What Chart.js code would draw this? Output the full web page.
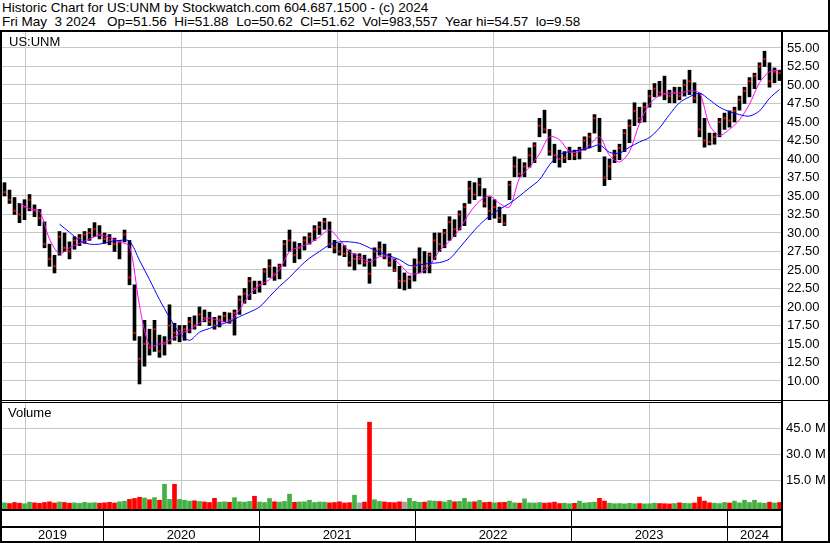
<!DOCTYPE html>
<html>
<head>
<meta charset="utf-8">
<title>US:UNM Historic Chart</title>
<script src="https://cdn.jsdelivr.net/npm/chart.js@4.4.1/dist/chart.umd.min.js"></script>
<style>
    body { margin: 0; background: #fff; }
    #wrap { position: relative; width: 830px; height: 543px; overflow: hidden; font-family: 'Liberation Sans', Arial, sans-serif; }
    .txt { position: absolute; font-size: 13px; line-height: 14px; color: #000; white-space: pre; }
    .title { font-size: 13.5px; }
    .rule { position: absolute; background: #000; z-index: 5; }
    canvas { position: absolute; left: 0; }
</style>
</head>
<body>
<div id="wrap">
    <div class="txt title" style="left:2px;top:1px;">Historic Chart for US:UNM by Stockwatch.com 604.687.1500 - (c) 2024</div>
    <div class="txt title" style="left:2px;top:15px;">Fri May  3 2024   Op=51.56  Hi=51.88  Lo=50.62  Cl=51.62  Vol=983,557  Year hi=54.57  lo=9.58</div>

    <canvas id="priceChart" width="830" height="368" style="top:32px;"></canvas>
    <canvas id="volumeChart" width="830" height="140" style="top:403px;"></canvas>

    <div class="txt" style="left:9px;top:35px;z-index:6;">US:UNM</div>
    <div class="txt" style="left:8px;top:406px;z-index:6;">Volume</div>

    <!-- frame lines -->
    <div class="rule" style="left:0;top:30px;width:830px;height:2px;"></div>
    <div class="rule" style="left:0;top:30px;width:2px;height:513px;"></div>
    <div class="rule" style="left:828px;top:0;width:2px;height:543px;"></div>
    <div class="rule" style="left:781px;top:30px;width:2px;height:513px;"></div>
    <div class="rule" style="left:0;top:400px;width:830px;height:1px;"></div>
    <div class="rule" style="left:0;top:402px;width:782px;height:1px;"></div>
    <div class="rule" style="left:0;top:541px;width:830px;height:2px;"></div>
</div>

<script>
// US:UNM bars, May 2019 - May 2024

const X_MIN = 2019.352;
const X_MAX = 2024.352;

const YEARS = ['2019', '2020', '2021', '2022', '2023', '2024'];
const YEAR_STARTS = [2020, 2021, 2022, 2023, 2024];

const PRICE_TICKS = [10, 12.5, 15, 17.5, 20, 22.5, 25, 27.5, 30, 32.5, 35, 37.5, 40, 42.5, 45, 47.5, 50, 52.5, 55];
const VOLUME_TICKS = [15, 30, 45];

const LOW = [
    35, 34, 32.5, 31.4, 31.8, 33, 32.2, 31, 28, 25.5, 24.6, 27, 27.5, 26.5, 27.8, 28.3, 28.6, 29, 29.5, 29.2,
    28.6, 28.4, 27.5, 26.5, 28.8, 23, 15.5, 9.6, 12, 13.5, 14, 13.2, 13.5, 15, 15.5, 15.3, 15.5, 16.5, 17, 17.5,
    18, 17.5, 17, 17.3, 18, 17.8, 16.2, 19, 20.5, 21, 21.8, 22, 23, 24, 23.6, 23.8, 25.5, 27.5, 26, 26.5,
    27.7, 28.5, 29, 29.8, 30.5, 28, 27.3, 27, 26.8, 25.5, 25, 25.8, 25.5, 23.2, 25.5, 27, 26.5, 25.5, 24.8, 22.5,
    22.3, 22.5, 23.5, 24.6, 24.6, 24.6, 26.4, 27.5, 28, 29, 29.5, 30.4, 31, 34, 34.5, 35, 33.5, 31.8, 32, 31.4,
    31, 34.5, 37.6, 37.6, 37.6, 38.9, 39.5, 43, 43.5, 40.5, 39.5, 38.9, 39.5, 39.9, 39.9, 40, 41.2, 41.5, 43.5, 41,
    36.4, 37.2, 39.5, 39.9, 41, 42.2, 44.5, 44.9, 45, 47, 48.4, 48.5, 48, 47.6, 47.6, 48, 48.5, 48.7, 47.6, 43,
    41.6, 41.9, 42, 43, 44, 44.3, 45, 46.6, 47.5, 48.4, 49.5, 50.7, 52.5, 49.7, 50.3, 50.6
];
const HIGH = [
    36.8, 35.8, 34.8, 34, 34.5, 35.2, 33.8, 33.2, 31.5, 28.5, 27, 30.2, 30, 28.8, 29.5, 29.8, 30.2, 30.6, 31.4, 31,
    30, 29.8, 29.3, 29, 30.4, 29, 23, 16, 18.2, 17, 18.2, 16.2, 16, 20.3, 17.8, 17.5, 17.5, 18.6, 18.8, 20,
    19.6, 19.3, 18.6, 18.8, 19.3, 19.2, 19.6, 21.5, 22.5, 24, 23.5, 23.5, 25.2, 26.4, 25.4, 25.8, 29, 30.4, 28.8, 28.6,
    29.5, 30, 31, 31.5, 32, 31.5, 29, 28.6, 28.3, 27.7, 27.2, 27.2, 27, 26.5, 28, 28.8, 28.5, 27.2, 26.5, 25.5,
    24.6, 24.2, 26.5, 28, 27.5, 27.3, 30, 30, 30.5, 32.2, 31.8, 33, 34, 37, 36.8, 37.4, 36, 34.9, 34.5, 33.5,
    32.5, 37, 40.3, 40, 39.5, 41.5, 42.2, 45.5, 46.6, 44, 42, 41.2, 41, 41.6, 41.2, 41.6, 43, 43.5, 46, 45.5,
    40.3, 40, 41.2, 42, 44, 45.3, 47.6, 47, 47.6, 49.3, 50.2, 50.5, 51.2, 49.3, 49.7, 49.7, 50.7, 52, 50.3, 48.9,
    45.5, 43.5, 43.5, 45.5, 46.2, 46.5, 47, 48.5, 49.7, 51, 51.6, 53, 54.57, 53, 52.3, 52
];
const CLOSE = [
    35.5, 34.5, 33, 32.5, 33.5, 34.5, 33, 32, 28.5, 26.5, 25.5, 29.5, 28, 27.5, 29, 29.3, 29.8, 30, 30.5, 29.8,
    29.2, 29, 28.5, 28.8, 29.8, 24, 16.5, 13, 15, 14.5, 17, 14, 15, 17.5, 16.5, 16.8, 17, 18, 17.5, 19,
    18.5, 18, 17.5, 18.3, 18.8, 18.2, 19.2, 21, 21.8, 23.5, 22.5, 23, 24.8, 25.5, 24.5, 25.5, 28.5, 29, 27, 28,
    29, 29.5, 30.5, 30.8, 31.5, 28.5, 28, 27.5, 27.2, 26, 26.5, 26.5, 26, 24.5, 27.5, 27.8, 27, 26, 25, 23.5,
    23.5, 23.8, 25.5, 26, 25.5, 27, 29, 28.5, 30, 31.5, 30.5, 32.5, 33.5, 36, 35.2, 36.5, 34, 33, 33.5, 32,
    31.3, 36.5, 39, 38, 39, 40.5, 41.8, 44.5, 44, 41, 40.5, 40, 40.2, 41, 40.5, 41.2, 42.5, 43, 45.5, 42,
    37.5, 39, 40.5, 41.5, 43.5, 44.5, 46.5, 45.5, 47, 48.5, 49.5, 49, 48.8, 48.5, 49, 48.5, 50, 50.5, 48.2, 44,
    42.5, 42.3, 43, 45, 45.5, 45.2, 46.5, 48, 49.2, 50.5, 51.2, 52.5, 53.5, 50.5, 51.8, 51.62
];

// volume per bar, millions
const VOLUME = [
    2.0, 1.6, 2.2, 1.8, 1.5, 2.4, 2.0, 1.7, 2.2, 2.6, 1.9, 2.5, 2.2, 1.8, 2.0, 1.7, 2.3, 1.9, 2.1, 1.8,
    2.0, 2.3, 1.9, 2.6, 3.0, 4.0, 4.5, 5.2, 4.8, 3.8, 5.0, 3.5, 12.7, 4.0, 12.7, 4.0, 3.5, 3.0, 3.2, 2.8,
    2.5, 2.2, 4.6, 2.4, 2.6, 2.3, 5.0, 2.6, 2.4, 2.8, 5.8, 2.5, 2.2, 4.5, 2.6, 2.4, 2.8, 7.0, 2.3, 2.5,
    2.6, 3.5, 2.2, 2.5, 2.4, 2.0, 2.2, 2.6, 1.9, 2.1, 6.4, 2.0, 2.4, 48.5, 3.8, 2.8, 2.5, 2.2, 2.1, 2.6,
    2.4, 4.6, 2.8, 2.3, 2.4, 3.2, 3.0, 2.8, 2.5, 3.5, 2.6, 2.8, 4.6, 2.5, 2.6, 3.4, 2.2, 2.4, 2.0, 2.2,
    2.3, 3.0, 2.0, 1.8, 4.3, 2.0, 1.9, 2.2, 1.8, 2.0, 2.4, 1.6, 1.8, 1.5, 1.7, 3.0, 1.9, 2.2, 2.4, 4.6,
    3.0, 1.8, 1.5, 1.6, 1.4, 1.7, 1.5, 1.6, 1.4, 1.5, 1.8, 1.6, 1.5, 1.4, 1.6, 2.0, 1.7, 1.6, 1.9, 5.3,
    3.0, 2.0, 1.8, 1.6, 2.2, 1.9, 3.0, 2.0, 3.5, 2.2, 3.5, 2.0, 1.8, 2.4, 1.9, 2.2
];

// moving averages, sampled at every second bar (bars 1, 3, 5 ... 155)
const MA_SHORT = [
    null, 34.0, 33.3, 32.9, 29.2, 27.2, 28.0, 28.6, 29.2, 29.7, 29.4, 28.8, 28.2, 20.2, 14.8, 15.0, 15.5, 16.4, 16.9, 17.8,
    18.5, 18.1, 18.0, 19.6, 21.7, 22.9, 23.7, 25.0, 27.5, 28.1, 28.6, 29.5, 30.4, 29.1, 27.5, 26.8, 26.1, 26.8, 26.8, 25.8,
    24.5, 24.6, 25.6, 27.6, 28.9, 30.5, 32.7, 34.3, 35.0, 34.0, 33.5, 37.4, 38.9, 40.7, 43.0, 42.6, 41.0, 41.0, 41.9, 43.0,
    40.5, 39.6, 41.0, 44.8, 47.4, 48.6, 48.9, 48.9, 49.2, 48.9, 44.6, 43.2, 44.0, 45.3, 47.4, 50.3, 51.8, 52.0
];
const MA_LONG = [
    null, null, null, null, null, 31.2, 30.1, 29.0, 28.5, 28.5, 28.8, 29.0, 28.9, 26.3, 23.7, 21.0, 18.6, 16.5, 15.5, 16.6,
    17.1, 17.6, 18.0, 18.7, 19.3, 20.0, 21.4, 22.8, 24.0, 25.4, 26.6, 27.5, 28.4, 28.8, 28.8, 28.6, 28.0, 27.4, 26.9, 26.4,
    25.6, 25.7, 25.9, 26.0, 26.5, 28.0, 29.6, 31.1, 32.3, 33.2, 34.0, 35.0, 36.1, 37.2, 39.2, 40.6, 41.0, 41.2, 41.5, 41.9,
    40.9, 40.8, 41.6, 42.3, 42.9, 44.2, 46.0, 47.6, 48.4, 48.9, 48.0, 47.0, 46.4, 46.0, 45.8, 46.5, 48.2, 49.4
];

const GRID = '#c8c8c8';
const FONT = { family: "'Liberation Sans', Arial, sans-serif", size: 13 };

const barStep = (X_MAX - X_MIN) / CLOSE.length;
const barX = i => X_MIN + (i + 0.5) * barStep;

Chart.defaults.font.family = FONT.family;

/**
 * Shared x axis: linear time in years, grid only at year starts
 */
function timeAxis() {
    return {
        type: 'linear',
        min: X_MIN,
        max: X_MAX,
        offset: false,
        afterBuildTicks: s => { s.ticks = YEAR_STARTS.map(v => ({ value: v })); },
        afterFit: s => { s.height = 0; s.paddingLeft = 0; s.paddingRight = 0; },
        ticks: { display: false },
        grid: { color: GRID, drawTicks: false },
        border: { display: false }
    };
}

/**
 * Right value axis with fixed width and no label overhang padding
 */
function valueAxis(min, max, ticks, format, padding) {
    return {
        position: 'right',
        min: min,
        max: max,
        afterBuildTicks: s => { s.ticks = ticks.map(v => ({ value: v })); },
        afterFit: s => { s.width = 48; s.paddingTop = 0; s.paddingBottom = 0; },
        ticks: {
            callback: format,
            font: FONT,
            color: '#000',
            padding: padding
        },
        grid: { color: GRID, drawTicks: false },
        border: { display: false }
    };
}

/**
 * Price panel: high-low bars, red close marks, two moving averages
 */
function renderPriceChart() {
    const ctx = document.getElementById('priceChart').getContext('2d');
    const maPoints = arr => arr.map((v, k) => ({ x: barX(2 * k + 1), y: v }));

    new Chart(ctx, {
        type: 'bar',
        data: {
            datasets: [
                {
                    type: 'line',
                    data: maPoints(MA_LONG),
                    borderColor: '#0000ff',
                    borderWidth: 1,
                    pointRadius: 0,
                    pointHoverRadius: 0,
                    tension: 0.3,
                    order: 1
                },
                {
                    type: 'line',
                    data: maPoints(MA_SHORT),
                    borderColor: '#ff00ff',
                    borderWidth: 1,
                    pointRadius: 0,
                    pointHoverRadius: 0,
                    tension: 0.3,
                    order: 2
                },
                {
                    type: 'scatter',
                    data: CLOSE.map((c, i) => ({ x: barX(i), y: c })),
                    pointStyle: 'rect',
                    pointRadius: 1.5,
                    pointHoverRadius: 0,
                    backgroundColor: '#ff0000',
                    borderWidth: 0,
                    order: 3
                },
                {
                    type: 'bar',
                    data: LOW.map((lo, i) => ({ x: barX(i), y: [lo, HIGH[i]] })),
                    backgroundColor: '#000',
                    barThickness: 3,
                    grouped: false,
                    order: 4
                }
            ]
        },
        options: {
            responsive: false,
            animation: false,
            layout: { autoPadding: false, padding: { left: 2, right: 0, top: 0, bottom: 0 } },
            plugins: { legend: { display: false }, tooltip: { enabled: false } },
            scales: {
                x: timeAxis(),
                y: valueAxis(7.432, 57.162, PRICE_TICKS, v => v.toFixed(2), 5)
            }
        }
    });
}

// date band under the volume panel: year boundaries and labels
const dateBand = {
    id: 'dateBand',
    afterDraw(chart) {
        const { ctx, chartArea, scales: { x } } = chart;
        const top = chartArea.bottom;
        ctx.save();
        ctx.fillStyle = '#000';
        ctx.fillRect(0, top, chartArea.right, 2);
        ctx.fillRect(0, top + 17, chartArea.right, 2);
        YEAR_STARTS.forEach(v => {
            ctx.fillRect(Math.round(x.getPixelForValue(v)), top, 1, 34);
        });
        const bounds = [X_MIN, ...YEAR_STARTS, X_MAX];
        ctx.font = `${FONT.size}px ${FONT.family}`;
        ctx.textAlign = 'center';
        ctx.textBaseline = 'middle';
        YEARS.forEach((yr, i) => {
            const mid = (x.getPixelForValue(bounds[i]) + x.getPixelForValue(bounds[i + 1])) / 2;
            ctx.fillText(yr, mid, top + 26);
        });
        ctx.restore();
    }
};

/**
 * Volume panel: bars coloured by close-to-close change
 */
function renderVolumeChart() {
    const ctx = document.getElementById('volumeChart').getContext('2d');
    const colors = CLOSE.map((c, i) => {
        if (i === 0 || c > CLOSE[i - 1]) return '#44b044';
        if (c < CLOSE[i - 1]) return '#ff0000';
        return '#a0a0a0';
    });
    const volMin = -1.56;

    new Chart(ctx, {
        type: 'bar',
        data: {
            datasets: [{
                data: VOLUME.map((v, i) => ({ x: barX(i), y: v })),
                backgroundColor: colors,
                base: volMin,
                barThickness: 4
            }]
        },
        options: {
            responsive: false,
            animation: false,
            layout: { autoPadding: false, padding: { left: 2, right: 0, top: 0, bottom: 34 } },
            plugins: { legend: { display: false }, tooltip: { enabled: false } },
            scales: {
                x: timeAxis(),
                y: valueAxis(volMin, 59.6, VOLUME_TICKS, v => v.toFixed(1) + ' M', 4)
            }
        },
        plugins: [dateBand]
    });
}

renderPriceChart();
renderVolumeChart();
</script>
</body>
</html>
